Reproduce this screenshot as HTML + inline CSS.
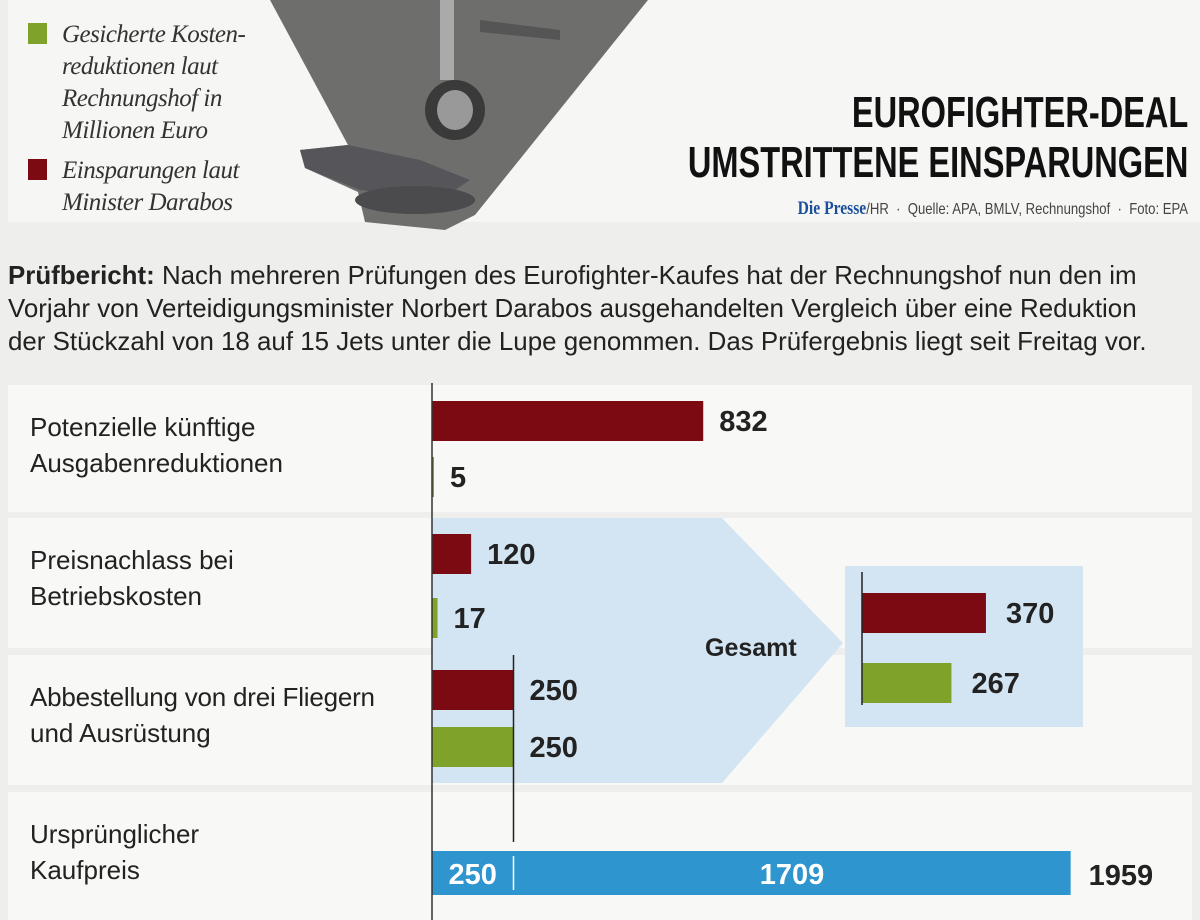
<!DOCTYPE html>
<html><head><meta charset="utf-8"><style>
body{margin:0;width:1200px;height:920px;background:#eeeeec;overflow:hidden;font-family:"Liberation Sans",sans-serif;position:relative}
.abs{position:absolute}
</style></head><body>
<div class="abs" style="left:8px;top:0;width:1192px;height:222px;background:#f6f6f4"></div>
<svg class="abs" style="left:0;top:0" width="1200" height="240">
<polygon points="270,0 648,0 475,215 445,230 365,222 358,192 305,168 300,150 348,145" fill="#6e6e6c"/>
<polygon points="300,150 348,145 420,160 470,180 440,200 360,190 305,168" fill="#55555a"/>
<ellipse cx="455" cy="110" rx="30" ry="30" fill="#3a3a3a"/><ellipse cx="455" cy="110" rx="18" ry="20" fill="#999"/>
<rect x="440" y="0" width="14" height="80" fill="#aaa"/>
<ellipse cx="415" cy="200" rx="60" ry="14" fill="#4b4b4e"/>
<polygon points="480,20 560,30 560,40 480,32" fill="#555"/>
</svg>
<div class="abs" style="left:28px;top:19px;font-family:'Liberation Serif',serif;font-style:italic;font-size:25px;line-height:32px;color:#333;letter-spacing:-0.5px">
<div style="position:relative;padding-left:34px"><span style="position:absolute;left:0;top:4px;width:19px;height:21px;background:#7fa32a"></span>Gesicherte Kosten-<br>reduktionen laut<br>Rechnungshof in<br>Millionen Euro</div>
<div style="position:relative;padding-left:34px;margin-top:8px"><span style="position:absolute;left:0;top:4px;width:19px;height:21px;background:#7c0a12"></span>Einsparungen laut<br>Minister Darabos</div>
</div>
<div class="abs" style="right:12px;top:88px;text-align:right;font-weight:bold;font-size:44px;line-height:50px;color:#111;transform:scaleX(0.74);transform-origin:right top;white-space:nowrap">EUROFIGHTER-DEAL<br>UMSTRITTENE EINSPARUNGEN</div>
<div class="abs" style="right:12px;top:198px;font-size:16px;color:#444;white-space:nowrap;transform:scaleX(0.82);transform-origin:right top"><b style="color:#1a4f9c;font-family:'Liberation Serif',serif;font-size:19px">Die Presse</b>/HR &nbsp;·&nbsp; Quelle: APA, BMLV, Rechnungshof &nbsp;·&nbsp; Foto: EPA</div>
<div class="abs" style="left:8px;top:259px;font-size:26px;line-height:33px;color:#222;white-space:nowrap;transform:scaleX(0.996);transform-origin:left top"><b>Prüfbericht:</b> Nach mehreren Prüfungen des Eurofighter-Kaufes hat der Rechnungshof nun den im<br>Vorjahr von Verteidigungsminister Norbert Darabos ausgehandelten Vergleich über eine Reduktion<br>der Stückzahl von 18 auf 15 Jets unter die Lupe genommen. Das Prüfergebnis liegt seit Freitag vor.</div>
<svg id="chart" class="abs" style="left:0;top:0" width="1200" height="920"></svg>
<script>
const categories=["Potenzielle künftige\nAusgabenreduktionen","Preisnachlass bei\nBetriebskosten","Abbestellung von drei Fliegern\nund Ausrüstung","Ursprünglicher\nKaufpreis"];
const darabos=[832,120,250];
const rechnungshof=[5,17,250];
const totals=[370,267];
const priceParts=[250,1709];
const priceTotal=1959;
const NS="http://www.w3.org/2000/svg";
const svg=document.getElementById('chart');
const X0=432,K=0.326;
const xs=v=>X0+v*K;
const rowTop=[385,518,655,792],rowH=[127,130,130,128];
function el(t,a,p){const e=document.createElementNS(NS,t);for(const k in a)e.setAttribute(k,a[k]);(p||svg).appendChild(e);return e;}
function txt(x,y,s,a){const e=el('text',Object.assign({x:x,y:y,'font-family':'"Liberation Sans",sans-serif','font-size':25},a||{}));e.textContent=s;return e;}
categories.forEach((c,i)=>{
 const r=el('rect',{x:8,y:rowTop[i],width:1184,height:rowH[i],fill:'#f8f8f6'});
 
 
 c.split('\n').forEach((l,j)=>{const t=txt(30,rowTop[i]+51+j*36,l,{fill:'#222','font-size':26});
 if(l.length>25)t.setAttribute('textLength',345);
 
 });
});
const ar=el('polygon',{points:`${X0},518 722,518 843,643 722,783 ${X0},783`,fill:'#d3e5f3'});


const g=txt(705,656,'Gesamt',{'font-weight':'bold',fill:'#222','font-size':25});


const VS=29;
const redY=[401,534,670],greenY=[457,598,727];
darabos.forEach((v,i)=>{
 const b=el('rect',{x:X0,y:redY[i],width:v*K,height:40,fill:'#7c0a12'});
 
 
 const t=txt(xs(v)+16,redY[i]+30,String(v),{'font-weight':'bold',fill:'#222','font-size':VS});
 
 
});
rechnungshof.forEach((v,i)=>{
 const b=el('rect',{x:X0,y:greenY[i],width:Math.max(v*K,2),height:40,fill:'#7fa32a'});
 
 
 const t=txt(Math.max(xs(v),X0+2)+16,greenY[i]+30,String(v),{'font-weight':'bold',fill:'#222','font-size':VS});
 
 
});
const gb=el('rect',{x:845,y:566,width:238,height:161,fill:'#d3e5f3'});


const G0=862,GK=0.335;
const gy=[593,663],gc=['#7c0a12','#7fa32a'];
totals.forEach((v,i)=>{
 const b=el('rect',{x:G0,y:gy[i],width:v*GK,height:40,fill:gc[i]});
 
 
 const t=txt(G0+v*GK+20,gy[i]+30,String(v),{'font-weight':'bold',fill:'#222','font-size':VS});
 
 
});
el('line',{x1:G0,y1:572,x2:G0,y2:705,stroke:'#222','stroke-width':1.5});
const pb=el('rect',{x:X0,y:851,width:priceTotal*K,height:44,fill:'#2f95cf'});


const split=xs(priceParts[0]);
el('line',{x1:split,y1:856,x2:split,y2:890,stroke:'#fff','stroke-width':1.5});
const t1=txt((X0+split)/2,884,String(priceParts[0]),{'font-weight':'bold',fill:'#fff','text-anchor':'middle','font-size':VS});


const t2=txt((split+xs(priceTotal))/2,884,String(priceParts[1]),{'font-weight':'bold',fill:'#fff','text-anchor':'middle','font-size':VS});


const t3=txt(xs(priceTotal)+18,885,String(priceTotal),{'font-weight':'bold',fill:'#222','font-size':VS});


el('line',{x1:split,y1:655,x2:split,y2:842,stroke:'#222','stroke-width':1.5});
const ax=el('line',{x1:X0,y1:383,x2:X0,y2:920,stroke:'#333','stroke-width':1.5});


</script>
</body></html>
